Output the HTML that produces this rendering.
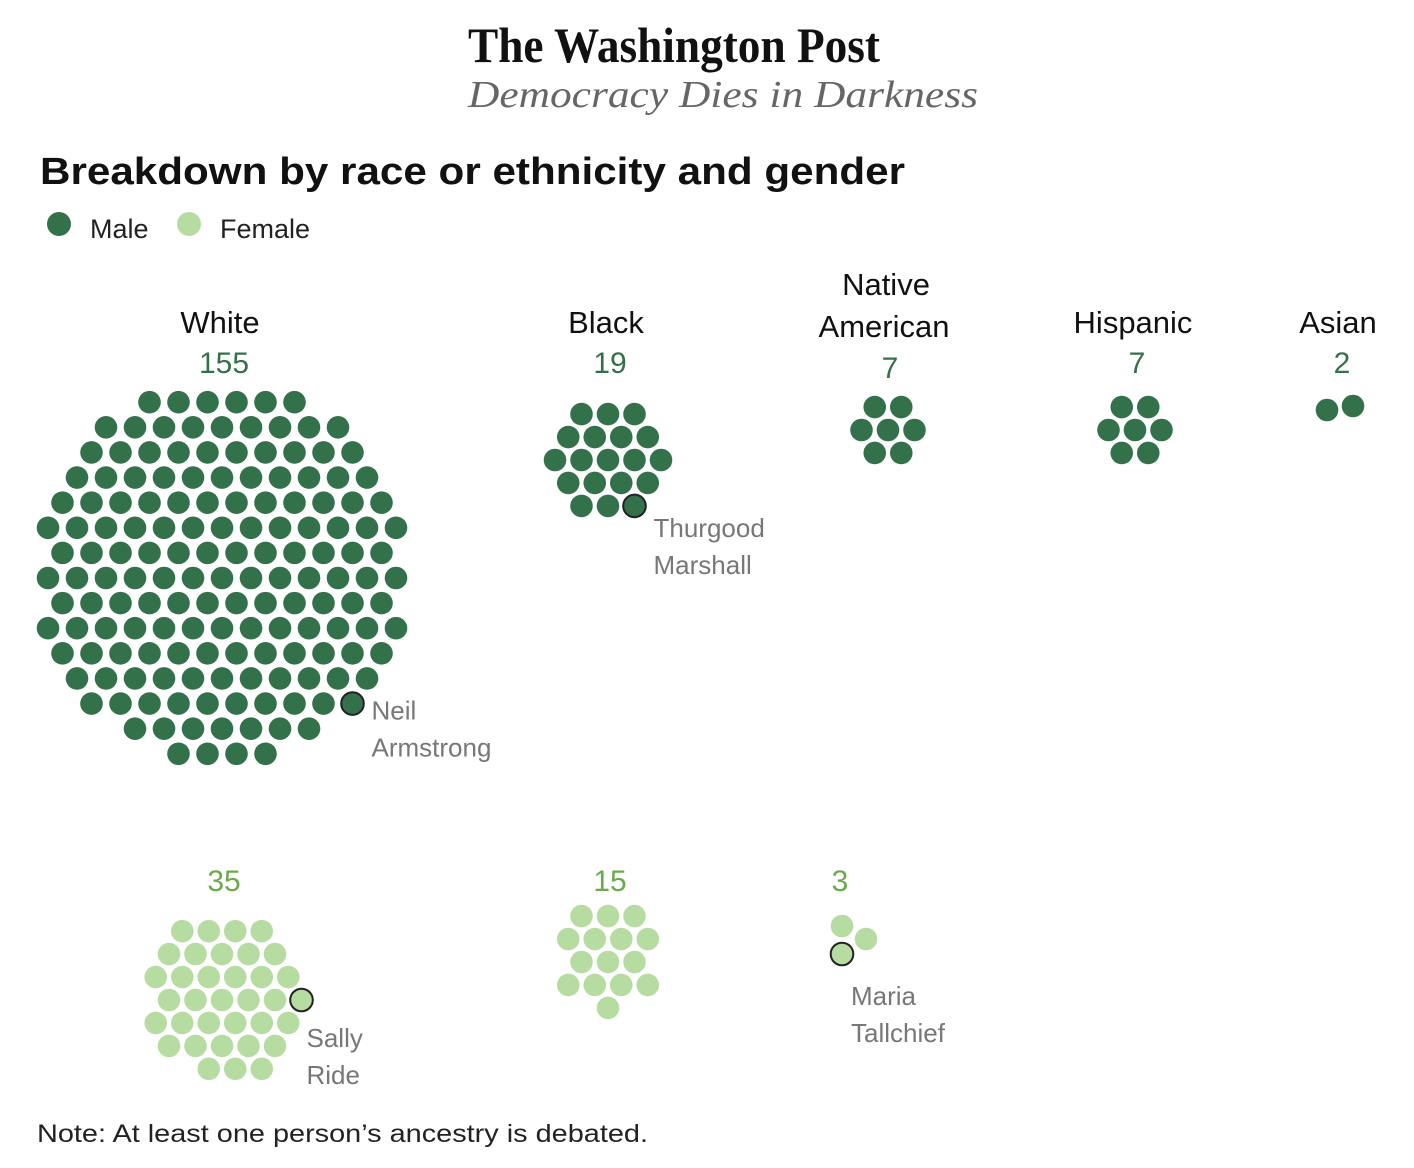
<!DOCTYPE html>
<html><head><meta charset="utf-8"><style>
body{margin:0;background:#fff;width:1414px;height:1168px;overflow:hidden}
svg{display:block}
text{font-family:"Liberation Sans",sans-serif}
</style></head><body>
<svg id="chart" width="1414" height="1168">
<text x="468" y="62" textLength="412" lengthAdjust="spacingAndGlyphs" font-weight="bold" font-size="50" fill="#111" style="font-family:'Liberation Serif',serif">The Washington Post</text>
<text x="468" y="107" textLength="510" lengthAdjust="spacingAndGlyphs" font-style="italic" font-size="38" fill="#666" style="font-family:'Liberation Serif',serif">Democracy Dies in Darkness</text>
<text x="40" y="184" textLength="865" lengthAdjust="spacingAndGlyphs" font-weight="bold" font-size="38" fill="#111">Breakdown by race or ethnicity and gender</text>
<circle cx="59" cy="224" r="12" fill="#33714a"/>
<text x="90" y="238" font-size="27" fill="#222">Male</text>
<circle cx="189" cy="224" r="12" fill="#b6dca2"/>
<text x="220" y="238" font-size="27" fill="#222">Female</text>
<text x="37" y="1142" textLength="611" lengthAdjust="spacingAndGlyphs" font-size="25" fill="#222">Note: At least one person’s ancestry is debated.</text>
<g id="marks"></g>
</svg>
<script>
const categories = ["White","Black","Native American","Hispanic","Asian"];
const maleCounts = [155,19,7,7,2];
const femaleCounts = [35,15,3,0,0];
const highlightNames = [["Neil","Armstrong"],["Thurgood","Marshall"],["Maria","Tallchief"],["Sally","Ride"]];

const NS="http://www.w3.org/2000/svg";
const g=document.getElementById('marks');
const MALE="#33714a", FEMALE="#b6dca2";
const colX=[222,608,888,1135,1340];
const maleY=[578,460,430,430,408];
const femaleY=[1000,962,940,940,940];
const R=11.3;
function mk(tag,attrs){const e=document.createElementNS(NS,tag);for(const k in attrs)e.setAttribute(k,attrs[k]);g.appendChild(e);return e;}
function layout(n){
  if(n===2) return [[-13,2],[13,-2]];
  if(n===3) return [[-6,-14],[18,-1],[-6,14]];
  const S = n>100 ? 29 : 26.5;
  const pts=[];
  for(let j=-12;j<=12;j++)for(let i=-14;i<=14;i++){
    const x=(i+j/2)*S, y=j*S*0.866;
    pts.push([x,y,Math.hypot(x,y)+0.001*Math.atan2(y,x)]);
  }
  pts.sort((a,b)=>a[2]-b[2]);
  return pts.slice(0,n).map(p=>[p[0],p[1]]);
}
function label(x,y,txt,size,fill,anchor,name){
  const t=mk('text',{x:x,y:y,'font-size':size,fill:fill,'text-anchor':anchor||'middle'});
  t.textContent=txt;
  
  
  return t;
}
function drawGroup(ci,count,cy,color,gender,hlDir,hlName){
  if(!count) return;
  const pts=layout(count);
  let hi=-1,best=-1e9;
  if(hlDir){pts.forEach((p,k)=>{const d=p[0]*hlDir[0]+p[1]*hlDir[1];if(d>best){best=d;hi=k;}});}
  pts.forEach((p,k)=>{
    const c=mk('circle',{cx:colX[ci]+p[0],cy:cy+p[1],r:R,fill:color});
    if(k===hi){c.setAttribute('stroke','#222');c.setAttribute('stroke-width','2');}
    
    
  });
  if(hi>=0&&hlName){
    const hx=colX[ci]+pts[hi][0], hy=cy+pts[hi][1];
    let lx,ly;
    if(gender==='female'&&ci===2){lx=hx+9;ly=hy+51;}
    else if(ci===1){lx=hx+19;ly=hy+31;}
    else {lx=hx+19;ly=hy+16;}
    if(gender==='female'&&ci===0){ly=hy+47;lx=hx+5;}
    label(lx,ly,hlName[0],26,'#777','start','annotation-'+hlName[1].toLowerCase());
    label(lx,ly+37,hlName[1],26,'#777','start','annotation-'+hlName[1].toLowerCase()+'-2');
  }
}
categories.forEach((c,i)=>{
  if(c==="Native American"){
    label(colX[i]-2,295,"Native",31,'#111','middle','category-label-native');
    label(colX[i]-4,337,"American",31,'#111','middle','category-label-american');
    label(colX[i]+2,378,String(maleCounts[i]),30,MALE,'middle','male-count-native-american');
  } else {
    label(colX[i]-2,333,c,31,'#111','middle','category-label-'+c.toLowerCase());
    label(colX[i]+2,373,String(maleCounts[i]),30,MALE,'middle','male-count-'+c.toLowerCase());
  }
  if(femaleCounts[i]) label(colX[i]+2-(i===2?50:0),891,String(femaleCounts[i]),30,'#6aaa4c','middle','female-count-'+c.toLowerCase().replace(' ','-'));
});
drawGroup(0,maleCounts[0],maleY[0],MALE,'male',[0.8,0.6],highlightNames[0]);
drawGroup(1,maleCounts[1],maleY[1],MALE,'male',[0.7,0.7],highlightNames[1]);
drawGroup(2,maleCounts[2],maleY[2],MALE,'male',null,null);
drawGroup(3,maleCounts[3],maleY[3],MALE,'male',null,null);
drawGroup(4,maleCounts[4],maleY[4],MALE,'male',null,null);
drawGroup(0,femaleCounts[0],femaleY[0],FEMALE,'female',[1,0.05],highlightNames[3]);
drawGroup(1,femaleCounts[1],femaleY[1],FEMALE,'female',null,null);
const saveX=colX[2]; colX[2]=848;
drawGroup(2,femaleCounts[2],femaleY[2],FEMALE,'female',[-0.3,1],highlightNames[2]);
colX[2]=saveX;
</script>
</body></html>
